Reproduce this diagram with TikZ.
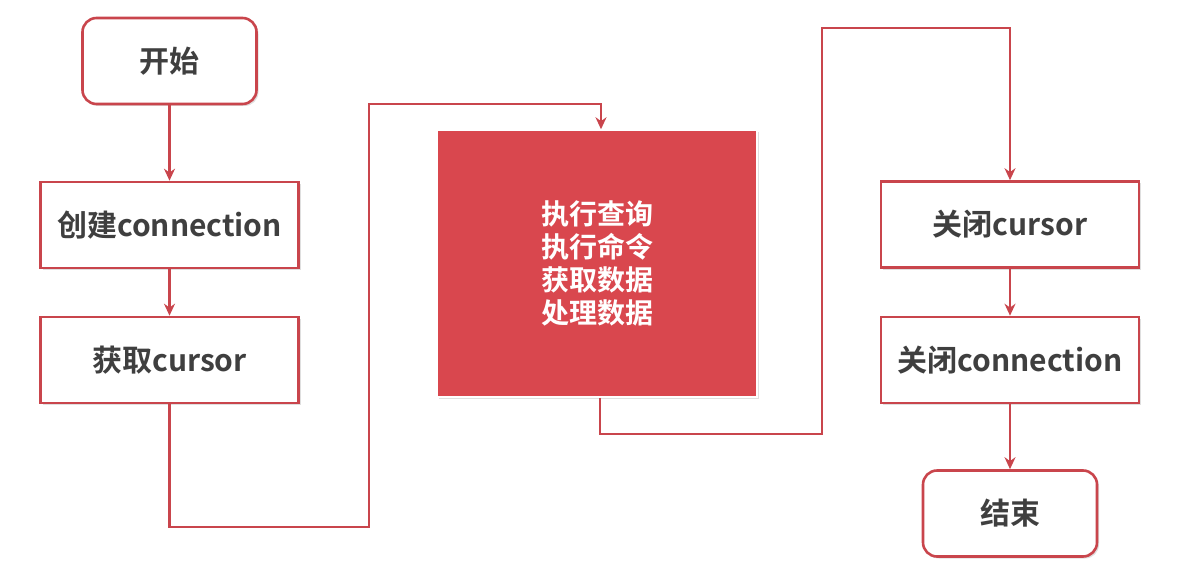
\documentclass[tikz,border=0pt]{standalone}
\usepackage{fontspec}
\setmainfont{Noto Sans CJK SC}[BoldFont={Noto Sans CJK SC Bold}]
\usetikzlibrary{arrows.meta,shadows}
\definecolor{lineRed}{HTML}{C9454C}
\definecolor{boxRed}{HTML}{D9474E}
\definecolor{txt}{HTML}{3F3F3F}
\tikzset{
  x=1pt,y=-1pt,
  sh/.style={drop shadow={opacity=0.25,shadow xshift=2pt,shadow yshift=-2pt}},
  stepbox/.style={draw=lineRed,line width=2.6pt,fill=white,minimum width=258pt,minimum height=86pt,inner sep=0pt,font=\bfseries\fontsize{30}{33}\selectfont,text=txt,sh},
  termbox/.style={stepbox,rounded corners=14pt,minimum width=174pt},
  bigbox/.style={draw=white,line width=1.5pt,fill=boxRed,minimum width=320pt,minimum height=267pt,inner sep=0pt,text=white,align=center,font=\bfseries\fontsize{28}{33}\selectfont,sh},
  conn/.style={draw=lineRed,line width=2.6pt,-{Stealth[length=12pt,width=11pt]}}
}
\begin{document}
\begin{tikzpicture}
\useasboundingbox (0,0) rectangle (1190,564);
\node[termbox] (start) at (169.5,61) {开始};
\node[stepbox] (conn1) at (169.5,225) {创建connection};
\node[stepbox] (cur1) at (169.5,360) {获取cursor};
\node[bigbox] (work) at (597,263.5) {执行查询\\执行命令\\获取数据\\处理数据};
\node[stepbox] (cur2) at (1010,224.5) {关闭cursor};
\node[stepbox] (conn2) at (1010,360) {关闭connection};
\node[termbox] (end) at (1010,513.5) {结束};
\coordinate (a1) at (169.5,527);
\coordinate (a2) at (369,527);
\coordinate (a3) at (369,104);
\coordinate (a4) at (601,104);
\coordinate (b1) at (600,434);
\coordinate (b2) at (822,434);
\coordinate (b3) at (822,28);
\coordinate (b4) at (1010,28);
\draw[conn] (start.south) -- (conn1.north);
\draw[conn] (conn1.south) -- (cur1.north);
\draw[conn] (cur1.south -| a1) -- (a1) -- (a2) -- (a3) -- (a4) -- (a4 |- work.north);
\draw[conn] (work.south -| b1) -- (b1) -- (b2) -- (b3) -- (b4) -- (b4 |- cur2.north);
\draw[conn] (cur2.south) -- (conn2.north);
\draw[conn] (conn2.south) -- (end.north);
\end{tikzpicture}
\end{document}
